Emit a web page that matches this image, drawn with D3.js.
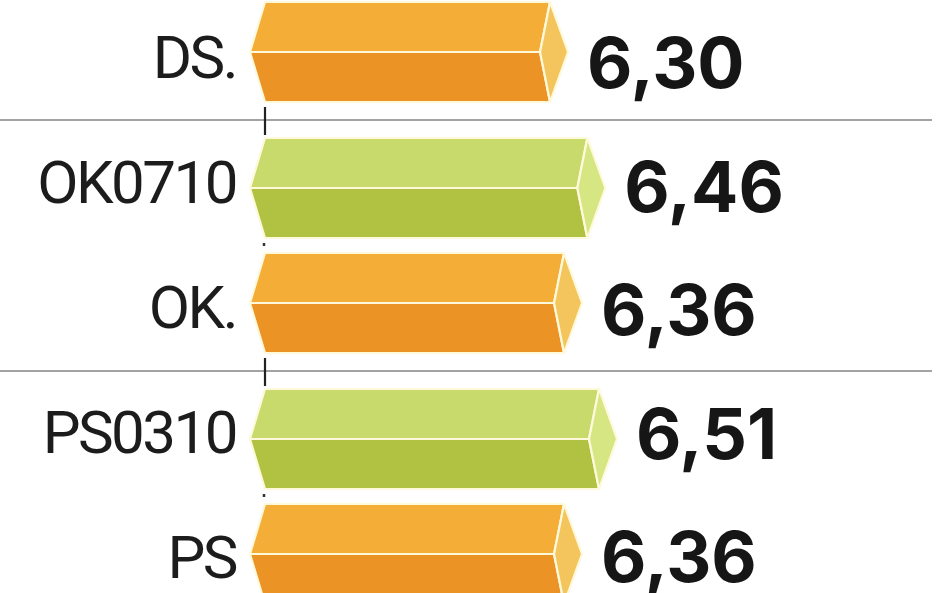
<!DOCTYPE html>
<html>
<head>
<meta charset="utf-8">
<script src="https://cdn.jsdelivr.net/npm/d3@7/dist/d3.min.js"></script>
<style>
  html, body { margin: 0; padding: 0; background: #ffffff; overflow: hidden; }
  svg { display: block; }
</style>
</head>
<body>
<svg id="chart" width="948" height="593"></svg>
<script>
// ---- data ----
const categories  = ["DS.", "OK0710", "OK.", "PS0310", "PS"];
const values      = [6.30, 6.46, 6.36, 6.51, 6.36];
const valueLabels = ["6,30", "6,46", "6,36", "6,51", "6,36"];
const groups      = ["DS", "OK", "OK", "PS", "PS"];
const kinds       = ["base", "new", "base", "new", "base"];
const axisStart   = 5.0;

// ---- styles ----
const palette = {
  base: { top: "#F4AE38", bottom: "#EC9326", cap: "#F3C55C" },
  new:  { top: "#C8DA6B", bottom: "#B1C242", cap: "#D6E683" }
};
const outline = "#FFF9DC";

const svg = d3.select("#chart");

// scales
const x = d3.scaleLinear().domain([axisStart, 6.51]).range([265, 617]);
const rowStep = 115, groupGap = 21, barH = 100, top0 = 2;
const groupIndex = d3.scaleOrdinal().domain(["DS", "OK", "PS"]).range([0, 1, 2]);
const barTop = (i) => top0 + i * rowStep + groupIndex(groups[i]) * groupGap;
const labelRow = d3.scaleLinear().domain([0, 1]).range([78, 203]);
const valueRow = d3.scaleLinear().domain([0, 1]).range([88, 211.5]);

const data = categories.map((c, i) => ({
  cat: c, v: values[i], lab: valueLabels[i], g: groups[i], k: kinds[i], i
}));

// separators between groups
const seps = [];
for (let i = 1; i < data.length; i++) {
  if (groups[i] !== groups[i - 1]) {
    seps.push((barTop(i - 1) + barH + barTop(i)) / 2);
  }
}
svg.selectAll("line.sep").data(seps).join("line")
  .attr("class", "sep")
  .attr("x1", 0).attr("x2", 932)
  .attr("y1", d => d).attr("y2", d => d)
  .attr("stroke", "#a3a3a3").attr("stroke-width", 2);

// axis marks at bar base
svg.selectAll("line.tick").data(seps).join("line")
  .attr("class", "tick")
  .attr("x1", x(axisStart)).attr("x2", x(axisStart))
  .attr("y1", d => d - 13).attr("y2", d => d + 15)
  .attr("stroke", "#222").attr("stroke-width", 2.2);

const innerGaps = [];
for (let i = 1; i < data.length; i++) {
  if (groups[i] === groups[i - 1]) {
    innerGaps.push((barTop(i - 1) + barH + barTop(i)) / 2 - 1);
  }
}
svg.selectAll("line.dot").data(innerGaps).join("line")
  .attr("class", "dot")
  .attr("x1", x(axisStart) - 1).attr("x2", x(axisStart) - 1)
  .attr("y1", d => d - 1.5).attr("y2", d => d + 1.5)
  .attr("stroke", "#333").attr("stroke-width", 2.5);

// bars
const leftDepth = 15, capDepth = 18, innerDepth = 28;
const bars = svg.selectAll("g.bar").data(data).join("g").attr("class", "bar");

bars.each(function(d) {
  const g = d3.select(this);
  const y0 = barTop(d.i), y1 = y0 + barH, ym = (y0 + y1) / 2;
  const L = x(axisStart), T = x(d.v);
  const c = palette[d.k];
  const line = d3.line();
  const topFace = [[L, y0], [T - capDepth, y0], [T - innerDepth, ym], [L - leftDepth, ym]];
  const botFace = [[L - leftDepth, ym], [T - innerDepth, ym], [T - capDepth, y1], [L, y1]];
  const cap = [[T - capDepth, y0], [T, ym], [T - capDepth, y1], [T - innerDepth, ym]];
  g.append("path").attr("d", line(topFace) + "Z")
    .attr("fill", c.top).attr("stroke", outline).attr("stroke-width", 2.2).attr("stroke-linejoin", "round");
  g.append("path").attr("d", line(botFace) + "Z")
    .attr("fill", c.bottom).attr("stroke", outline).attr("stroke-width", 2.2).attr("stroke-linejoin", "round");
  g.append("path").attr("d", line(cap) + "Z")
    .attr("fill", c.cap).attr("stroke", outline).attr("stroke-width", 2.2).attr("stroke-linejoin", "round");
});

// category labels
svg.selectAll("text.cat").data(data).join("text")
  .attr("class", "cat")
  .attr("x", 236)
  .attr("y", d => labelRow(d.i))
  .attr("text-anchor", "end")
  .attr("font-family", "Roboto, 'Open Sans', sans-serif")
  .attr("font-size", 60)
  .attr("letter-spacing", "-2.5px")
  .attr("fill", "#1c1c1c")
  .text(d => d.cat);

// value labels
svg.selectAll("text.val").data(data).join("text")
  .attr("class", "val")
  .attr("x", d => x(d.v) + 19)
  .attr("y", d => valueRow(d.i))
  .attr("font-family", "Inter, Roboto, sans-serif")
  .attr("font-weight", 700)
  .attr("font-size", 70)
  .attr("fill", "#161616")
  .text(d => d.lab);
</script>
</body>
</html>
